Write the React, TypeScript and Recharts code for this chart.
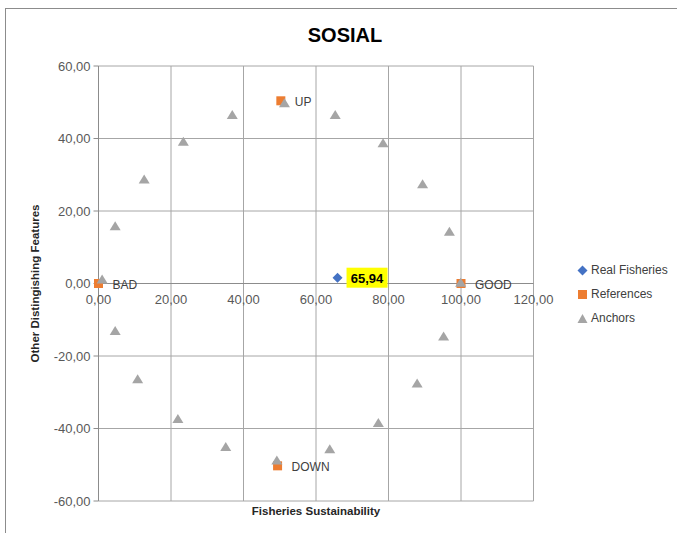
import React from 'react';
import { ScatterChart, Scatter, XAxis, YAxis, CartesianGrid, ReferenceLine, Label } from 'recharts';

// chart values
const realName = ['Real Fisheries'];
const realX = [65.94];
const realY = [1.6];

const refNames = ['BAD', 'GOOD', 'UP', 'DOWN'];
const refX = [0, 100, 50.3, 49.4];
const refY = [0, 0, 50.4, -50.3];

const anchorX = [1.0, 4.6, 4.6, 12.6, 10.8, 23.4, 21.9, 36.9, 35.1, 51.3, 49.2, 65.3, 63.8, 78.5, 77.2, 89.4, 87.9, 96.8, 95.2, 99.9];
const anchorY = [1.1, 15.8, -13.1, 28.7, -26.4, 39.1, -37.4, 46.5, -45.1, 49.7, -48.8, 46.5, -45.7, 38.7, -38.5, 27.4, -27.6, 14.3, -14.6, 0.2];

const xTicks = [0, 20, 40, 60, 80, 100, 120];
const yTicks = [-60, -40, -20, 0, 20, 40, 60];

const realData = realX.map((x, i) => ({ x, y: realY[i], name: realName[i] }));
const refData = refX.map((x, i) => ({ x, y: refY[i], name: refNames[i] }));
const anchorData = anchorX.map((x, i) => ({ x, y: anchorY[i] }));

const FONT = '"Liberation Sans", Arial, sans-serif';
const BLUE = '#4472C4';
const ORANGE = '#ED7D31';
const GRAY = '#A5A5A5';

const PLOT_TOP = 66;
const PLOT_BOTTOM = 501;
const PLOT_MID = (PLOT_TOP + PLOT_BOTTOM) / 2;

const fmt = (v: number) => v.toFixed(2).replace('.', ',');

const XTick = (props: any) => {
    const { x, payload } = props;
    return (
        <text x={x} y={PLOT_MID + 20} textAnchor="middle" fontSize={13} fill="#595959" fontFamily={FONT}>
            {fmt(payload.value)}
        </text>
    );
};

const Diamond = (props: any) => {
    const { cx, cy, payload } = props;
    const label = fmt(payload.x);
    return (
        <g>
            <polygon points={`${cx},${cy - 5} ${cx + 5},${cy} ${cx},${cy + 5} ${cx - 5},${cy}`} fill={BLUE} />
            <rect x={cx + 9} y={cy - 10} width={41} height={20} fill="#FFFF00" />
            <text x={cx + 29.5} y={cy + 5} textAnchor="middle" fontSize={13} fontWeight="bold" fill="#000" fontFamily={FONT}>
                {label}
            </text>
        </g>
    );
};

const Square = (props: any) => {
    const { cx, cy, payload } = props;
    return (
        <g>
            <rect x={cx - 4.5} y={cy - 4.5} width={9} height={9} fill={ORANGE} />
            <text x={cx + 14} y={cy + 5} fontSize={12} fill="#404040" fontFamily={FONT}>
                {payload.name}
            </text>
        </g>
    );
};

const Triangle = (props: any) => {
    const { cx, cy } = props;
    return <polygon points={`${cx},${cy - 5} ${cx + 5.5},${cy + 4} ${cx - 5.5},${cy + 4}`} fill={GRAY} />;
};

const legendItems = [
    { label: 'Real Fisheries', kind: 'diamond' },
    { label: 'References', kind: 'square' },
    { label: 'Anchors', kind: 'triangle' },
];

const LegendBox = () => (
    <div style={{ position: 'absolute', left: 577, top: 258, fontFamily: FONT, fontSize: 12, color: '#404040' }}>
        {legendItems.map((it) => (
            <div key={it.label} style={{ height: 24, display: 'flex', alignItems: 'center' }}>
                <svg width={11} height={11} style={{ marginRight: 3 }}>
                    {it.kind === 'diamond' && <polygon points="5.5,0.5 10.5,5.5 5.5,10.5 0.5,5.5" fill={BLUE} />}
                    {it.kind === 'square' && <rect x={1} y={1} width={9} height={9} fill={ORANGE} />}
                    {it.kind === 'triangle' && <polygon points="5.5,1 10.5,10 0.5,10" fill={GRAY} />}
                </svg>
                <span>{it.label}</span>
            </div>
        ))}
    </div>
);

export default function App() {
    return (
        <div style={{ position: 'absolute', left: 0, top: 0, width: 677, height: 533, background: '#fff', overflow: 'hidden' }}>
            <div style={{ position: 'absolute', left: 5, top: 8, width: 700, height: 600, borderTop: '1px solid #8c8c8c', borderLeft: '1px solid #8c8c8c' }} />
            <div style={{ position: 'absolute', left: 0, top: 24, width: 690, textAlign: 'center', fontFamily: FONT, fontWeight: 'bold', fontSize: 20, color: '#000' }}>
                SOSIAL
            </div>
            <div style={{ position: 'absolute', left: 0, top: 0 }}>
                <ScatterChart width={677} height={533} margin={{ top: PLOT_TOP, right: 143.5, bottom: 2, left: 18.5 }}>
                    <CartesianGrid stroke="#a6a6a6" />
                    <XAxis
                        type="number"
                        dataKey="x"
                        domain={[0, 120]}
                        ticks={xTicks}
                        axisLine={false}
                        tickLine={false}
                        height={30}
                        tick={<XTick />}
                    >
                        <Label
                            value="Fisheries Sustainability"
                            position="insideTop"
                            offset={6}
                            style={{ fontFamily: FONT, fontSize: 11.5, fontWeight: 'bold', fill: '#262626' }}
                        />
                    </XAxis>
                    <YAxis
                        type="number"
                        dataKey="y"
                        domain={[-60, 60]}
                        ticks={yTicks}
                        width={80}
                        tickFormatter={fmt}
                        tickSize={5}
                        tickMargin={3}
                        axisLine={{ stroke: '#8c8c8c' }}
                        tickLine={{ stroke: '#8c8c8c' }}
                        tick={{ fontSize: 13, fill: '#595959', fontFamily: FONT }}
                    >
                        <Label
                            value="Other Distingishing  Features"
                            angle={-90}
                            position="insideLeft"
                            offset={16.5}
                            style={{ textAnchor: 'middle', fontFamily: FONT, fontSize: 11.5, fontWeight: 'bold', fill: '#262626' }}
                        />
                    </YAxis>
                    <ReferenceLine y={0} stroke="#8c8c8c" />
                    <Scatter name="Real Fisheries" data={realData} fill={BLUE} shape={<Diamond />} isAnimationActive={false} />
                    <Scatter name="References" data={refData} fill={ORANGE} shape={<Square />} isAnimationActive={false} />
                    <Scatter name="Anchors" data={anchorData} fill={GRAY} shape={<Triangle />} isAnimationActive={false} />
                </ScatterChart>
            </div>
            <LegendBox />
        </div>
    );
}
